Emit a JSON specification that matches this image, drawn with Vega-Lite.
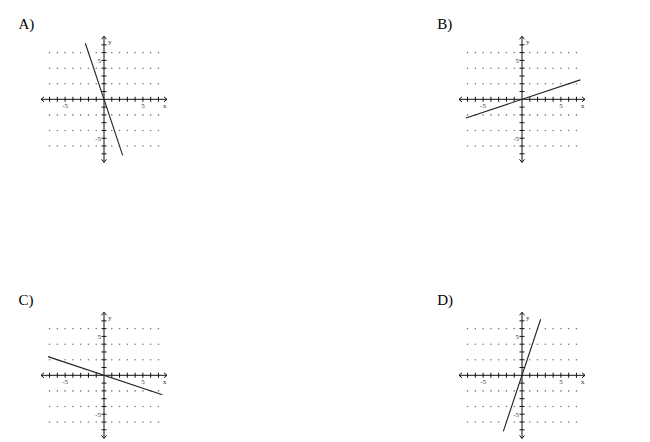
{
  "$schema": "https://vega.github.io/schema/vega-lite/v6.json",
  "description": "Four candidate graphs of a line through the origin (A-D) on a dotted grid.",
  "padding": 0,
  "background": "white",
  "config": {"view": {"stroke": null}},
  "datasets": {
    "grid": [
      {"x": -7, "y": 6}, {"x": -6, "y": 6}, {"x": -5, "y": 6}, {"x": -4, "y": 6}, {"x": -3, "y": 6}, {"x": -2, "y": 6}, {"x": -1, "y": 6},
      {"x": 1, "y": 6}, {"x": 2, "y": 6}, {"x": 3, "y": 6}, {"x": 4, "y": 6}, {"x": 5, "y": 6}, {"x": 6, "y": 6}, {"x": 7, "y": 6},
      {"x": -7, "y": 4}, {"x": -6, "y": 4}, {"x": -5, "y": 4}, {"x": -4, "y": 4}, {"x": -3, "y": 4}, {"x": -2, "y": 4}, {"x": -1, "y": 4},
      {"x": 1, "y": 4}, {"x": 2, "y": 4}, {"x": 3, "y": 4}, {"x": 4, "y": 4}, {"x": 5, "y": 4}, {"x": 6, "y": 4}, {"x": 7, "y": 4},
      {"x": -7, "y": 2}, {"x": -6, "y": 2}, {"x": -5, "y": 2}, {"x": -4, "y": 2}, {"x": -3, "y": 2}, {"x": -2, "y": 2}, {"x": -1, "y": 2},
      {"x": 1, "y": 2}, {"x": 2, "y": 2}, {"x": 3, "y": 2}, {"x": 4, "y": 2}, {"x": 5, "y": 2}, {"x": 6, "y": 2}, {"x": 7, "y": 2},
      {"x": -7, "y": -2}, {"x": -6, "y": -2}, {"x": -5, "y": -2}, {"x": -4, "y": -2}, {"x": -3, "y": -2}, {"x": -2, "y": -2}, {"x": -1, "y": -2},
      {"x": 1, "y": -2}, {"x": 2, "y": -2}, {"x": 3, "y": -2}, {"x": 4, "y": -2}, {"x": 5, "y": -2}, {"x": 6, "y": -2}, {"x": 7, "y": -2},
      {"x": -7, "y": -4}, {"x": -6, "y": -4}, {"x": -5, "y": -4}, {"x": -4, "y": -4}, {"x": -3, "y": -4}, {"x": -2, "y": -4}, {"x": -1, "y": -4},
      {"x": 1, "y": -4}, {"x": 2, "y": -4}, {"x": 3, "y": -4}, {"x": 4, "y": -4}, {"x": 5, "y": -4}, {"x": 6, "y": -4}, {"x": 7, "y": -4},
      {"x": -7, "y": -6}, {"x": -6, "y": -6}, {"x": -5, "y": -6}, {"x": -4, "y": -6}, {"x": -3, "y": -6}, {"x": -2, "y": -6}, {"x": -1, "y": -6},
      {"x": 1, "y": -6}, {"x": 2, "y": -6}, {"x": 3, "y": -6}, {"x": 4, "y": -6}, {"x": 5, "y": -6}, {"x": 6, "y": -6}, {"x": 7, "y": -6}
    ],
    "axes": [
      {"x": -8.1, "y": 0, "x2": 8.1, "y2": 0},
      {"x": 0, "y": -8.1, "x2": 0, "y2": 8.1}
    ],
    "xticks": [
      {"x": -7, "y": 0}, {"x": -6, "y": 0}, {"x": -5, "y": 0}, {"x": -4, "y": 0}, {"x": -3, "y": 0}, {"x": -2, "y": 0}, {"x": -1, "y": 0},
      {"x": 1, "y": 0}, {"x": 2, "y": 0}, {"x": 3, "y": 0}, {"x": 4, "y": 0}, {"x": 5, "y": 0}, {"x": 6, "y": 0}, {"x": 7, "y": 0}
    ],
    "yticks": [
      {"x": 0, "y": -7}, {"x": 0, "y": -6}, {"x": 0, "y": -5}, {"x": 0, "y": -4}, {"x": 0, "y": -3}, {"x": 0, "y": -2}, {"x": 0, "y": -1},
      {"x": 0, "y": 1}, {"x": 0, "y": 2}, {"x": 0, "y": 3}, {"x": 0, "y": 4}, {"x": 0, "y": 5}, {"x": 0, "y": 6}, {"x": 0, "y": 7}
    ],
    "arrows": [
      {"x": -8.1, "y": 0, "dir": "left"},
      {"x": 8.1, "y": 0, "dir": "right"},
      {"x": 0, "y": 8.1, "dir": "up"},
      {"x": 0, "y": -8.1, "dir": "down"}
    ],
    "xlabels": [
      {"x": -5, "y": 0, "t": "-5"},
      {"x": 5, "y": 0, "t": "5"},
      {"x": 7.8, "y": 0, "t": "x"}
    ],
    "ylabels": [
      {"x": 0, "y": 5, "t": "5"},
      {"x": 0, "y": -5, "t": "-5"}
    ],
    "yname": [
      {"x": 0, "y": 7.3, "t": "y"}
    ]
  },
  "columns": 2,
  "spacing": {"row": 111, "column": 210},
  "concat": [
    {
      "width": 208,
      "height": 165,
      "encoding": {
        "x": {"field": "x", "type": "quantitative", "scale": {"domain": [-13.37, 13.37], "nice": false, "zero": false}, "axis": null},
        "y": {"field": "y", "type": "quantitative", "scale": {"domain": [-8.44, 12.76], "nice": false, "zero": false}, "axis": null}
      },
      "layer": [
        {"data": {"name": "grid"}, "mark": {"type": "circle", "size": 2.5, "color": "#7a7a7a", "opacity": 1}},
        {"data": {"name": "axes"}, "mark": {"type": "rule", "color": "#111", "strokeWidth": 1}, "encoding": {"x2": {"field": "x2"}, "y2": {"field": "y2"}}},
        {"data": {"name": "xticks"}, "mark": {"type": "tick", "orient": "vertical", "size": 5, "thickness": 1, "color": "#111", "opacity": 1}},
        {"data": {"name": "yticks"}, "mark": {"type": "tick", "orient": "horizontal", "size": 5, "thickness": 1, "color": "#111", "opacity": 1}},
        {"data": {"name": "arrows"}, "mark": {"type": "point", "filled": false, "size": 25, "strokeWidth": 1, "color": "#111", "opacity": 1},
         "encoding": {"shape": {"field": "dir", "type": "nominal", "legend": null,
           "scale": {"domain": ["left", "right", "up", "down"], "range": ["M 1.2 -1 L 0 0 L 1.2 1", "M -1.2 -1 L 0 0 L -1.2 1", "M -1 1.2 L 0 0 L 1 1.2", "M -1 -1.2 L 0 0 L 1 -1.2"]}}}},
        {"data": {"name": "xlabels"}, "mark": {"type": "text", "font": "Liberation Serif", "fontSize": 7, "fill": "#333", "baseline": "middle", "dy": 7}, "encoding": {"text": {"field": "t"}}},
        {"data": {"name": "ylabels"}, "mark": {"type": "text", "font": "Liberation Serif", "fontSize": 7, "fill": "#333", "baseline": "middle", "align": "right", "dx": -3, "dy": 1}, "encoding": {"text": {"field": "t"}}},
        {"data": {"name": "yname"}, "mark": {"type": "text", "font": "Liberation Serif", "fontSize": 7, "fill": "#333", "baseline": "middle", "align": "left", "dx": 4}, "encoding": {"text": {"field": "t"}}},
        {"data": {"values": [{"x": -2.4, "y": 7.2}, {"x": 2.4, "y": -7.2}]}, "mark": {"type": "line", "color": "#222", "strokeWidth": 1.1}},
        {"data": {"values": [{"x": -11, "y": 9, "t": "A)"}]}, "mark": {"type": "text", "font": "Liberation Serif", "fontSize": 15, "fill": "#000", "align": "left", "baseline": "alphabetic"}, "encoding": {"text": {"field": "t"}}}
      ]
    },
    {
      "width": 208,
      "height": 165,
      "encoding": {
        "x": {"field": "x", "type": "quantitative", "scale": {"domain": [-13.37, 13.37], "nice": false, "zero": false}, "axis": null},
        "y": {"field": "y", "type": "quantitative", "scale": {"domain": [-8.44, 12.76], "nice": false, "zero": false}, "axis": null}
      },
      "layer": [
        {"data": {"name": "grid"}, "mark": {"type": "circle", "size": 2.5, "color": "#7a7a7a", "opacity": 1}},
        {"data": {"name": "axes"}, "mark": {"type": "rule", "color": "#111", "strokeWidth": 1}, "encoding": {"x2": {"field": "x2"}, "y2": {"field": "y2"}}},
        {"data": {"name": "xticks"}, "mark": {"type": "tick", "orient": "vertical", "size": 5, "thickness": 1, "color": "#111", "opacity": 1}},
        {"data": {"name": "yticks"}, "mark": {"type": "tick", "orient": "horizontal", "size": 5, "thickness": 1, "color": "#111", "opacity": 1}},
        {"data": {"name": "arrows"}, "mark": {"type": "point", "filled": false, "size": 25, "strokeWidth": 1, "color": "#111", "opacity": 1},
         "encoding": {"shape": {"field": "dir", "type": "nominal", "legend": null,
           "scale": {"domain": ["left", "right", "up", "down"], "range": ["M 1.2 -1 L 0 0 L 1.2 1", "M -1.2 -1 L 0 0 L -1.2 1", "M -1 1.2 L 0 0 L 1 1.2", "M -1 -1.2 L 0 0 L 1 -1.2"]}}}},
        {"data": {"name": "xlabels"}, "mark": {"type": "text", "font": "Liberation Serif", "fontSize": 7, "fill": "#333", "baseline": "middle", "dy": 7}, "encoding": {"text": {"field": "t"}}},
        {"data": {"name": "ylabels"}, "mark": {"type": "text", "font": "Liberation Serif", "fontSize": 7, "fill": "#333", "baseline": "middle", "align": "right", "dx": -3, "dy": 1}, "encoding": {"text": {"field": "t"}}},
        {"data": {"name": "yname"}, "mark": {"type": "text", "font": "Liberation Serif", "fontSize": 7, "fill": "#333", "baseline": "middle", "align": "left", "dx": 4}, "encoding": {"text": {"field": "t"}}},
        {"data": {"values": [{"x": -7.2, "y": -2.4}, {"x": 7.5, "y": 2.5}]}, "mark": {"type": "line", "color": "#222", "strokeWidth": 1.1}},
        {"data": {"values": [{"x": -10.9, "y": 9, "t": "B)"}]}, "mark": {"type": "text", "font": "Liberation Serif", "fontSize": 15, "fill": "#000", "align": "left", "baseline": "alphabetic"}, "encoding": {"text": {"field": "t"}}}
      ]
    },
    {
      "width": 208,
      "height": 165,
      "encoding": {
        "x": {"field": "x", "type": "quantitative", "scale": {"domain": [-13.37, 13.37], "nice": false, "zero": false}, "axis": null},
        "y": {"field": "y", "type": "quantitative", "scale": {"domain": [-8.44, 12.76], "nice": false, "zero": false}, "axis": null}
      },
      "layer": [
        {"data": {"name": "grid"}, "mark": {"type": "circle", "size": 2.5, "color": "#7a7a7a", "opacity": 1}},
        {"data": {"name": "axes"}, "mark": {"type": "rule", "color": "#111", "strokeWidth": 1}, "encoding": {"x2": {"field": "x2"}, "y2": {"field": "y2"}}},
        {"data": {"name": "xticks"}, "mark": {"type": "tick", "orient": "vertical", "size": 5, "thickness": 1, "color": "#111", "opacity": 1}},
        {"data": {"name": "yticks"}, "mark": {"type": "tick", "orient": "horizontal", "size": 5, "thickness": 1, "color": "#111", "opacity": 1}},
        {"data": {"name": "arrows"}, "mark": {"type": "point", "filled": false, "size": 25, "strokeWidth": 1, "color": "#111", "opacity": 1},
         "encoding": {"shape": {"field": "dir", "type": "nominal", "legend": null,
           "scale": {"domain": ["left", "right", "up", "down"], "range": ["M 1.2 -1 L 0 0 L 1.2 1", "M -1.2 -1 L 0 0 L -1.2 1", "M -1 1.2 L 0 0 L 1 1.2", "M -1 -1.2 L 0 0 L 1 -1.2"]}}}},
        {"data": {"name": "xlabels"}, "mark": {"type": "text", "font": "Liberation Serif", "fontSize": 7, "fill": "#333", "baseline": "middle", "dy": 7}, "encoding": {"text": {"field": "t"}}},
        {"data": {"name": "ylabels"}, "mark": {"type": "text", "font": "Liberation Serif", "fontSize": 7, "fill": "#333", "baseline": "middle", "align": "right", "dx": -3, "dy": 1}, "encoding": {"text": {"field": "t"}}},
        {"data": {"name": "yname"}, "mark": {"type": "text", "font": "Liberation Serif", "fontSize": 7, "fill": "#333", "baseline": "middle", "align": "left", "dx": 4}, "encoding": {"text": {"field": "t"}}},
        {"data": {"values": [{"x": -7.2, "y": 2.4}, {"x": 7.5, "y": -2.5}]}, "mark": {"type": "line", "color": "#222", "strokeWidth": 1.1}},
        {"data": {"values": [{"x": -11, "y": 9, "t": "C)"}]}, "mark": {"type": "text", "font": "Liberation Serif", "fontSize": 15, "fill": "#000", "align": "left", "baseline": "alphabetic"}, "encoding": {"text": {"field": "t"}}}
      ]
    },
    {
      "width": 208,
      "height": 165,
      "encoding": {
        "x": {"field": "x", "type": "quantitative", "scale": {"domain": [-13.37, 13.37], "nice": false, "zero": false}, "axis": null},
        "y": {"field": "y", "type": "quantitative", "scale": {"domain": [-8.44, 12.76], "nice": false, "zero": false}, "axis": null}
      },
      "layer": [
        {"data": {"name": "grid"}, "mark": {"type": "circle", "size": 2.5, "color": "#7a7a7a", "opacity": 1}},
        {"data": {"name": "axes"}, "mark": {"type": "rule", "color": "#111", "strokeWidth": 1}, "encoding": {"x2": {"field": "x2"}, "y2": {"field": "y2"}}},
        {"data": {"name": "xticks"}, "mark": {"type": "tick", "orient": "vertical", "size": 5, "thickness": 1, "color": "#111", "opacity": 1}},
        {"data": {"name": "yticks"}, "mark": {"type": "tick", "orient": "horizontal", "size": 5, "thickness": 1, "color": "#111", "opacity": 1}},
        {"data": {"name": "arrows"}, "mark": {"type": "point", "filled": false, "size": 25, "strokeWidth": 1, "color": "#111", "opacity": 1},
         "encoding": {"shape": {"field": "dir", "type": "nominal", "legend": null,
           "scale": {"domain": ["left", "right", "up", "down"], "range": ["M 1.2 -1 L 0 0 L 1.2 1", "M -1.2 -1 L 0 0 L -1.2 1", "M -1 1.2 L 0 0 L 1 1.2", "M -1 -1.2 L 0 0 L 1 -1.2"]}}}},
        {"data": {"name": "xlabels"}, "mark": {"type": "text", "font": "Liberation Serif", "fontSize": 7, "fill": "#333", "baseline": "middle", "dy": 7}, "encoding": {"text": {"field": "t"}}},
        {"data": {"name": "ylabels"}, "mark": {"type": "text", "font": "Liberation Serif", "fontSize": 7, "fill": "#333", "baseline": "middle", "align": "right", "dx": -3, "dy": 1}, "encoding": {"text": {"field": "t"}}},
        {"data": {"name": "yname"}, "mark": {"type": "text", "font": "Liberation Serif", "fontSize": 7, "fill": "#333", "baseline": "middle", "align": "left", "dx": 4}, "encoding": {"text": {"field": "t"}}},
        {"data": {"values": [{"x": -2.4, "y": -7.2}, {"x": 2.4, "y": 7.2}]}, "mark": {"type": "line", "color": "#222", "strokeWidth": 1.1}},
        {"data": {"values": [{"x": -10.9, "y": 9, "t": "D)"}]}, "mark": {"type": "text", "font": "Liberation Serif", "fontSize": 15, "fill": "#000", "align": "left", "baseline": "alphabetic"}, "encoding": {"text": {"field": "t"}}}
      ]
    }
  ]
}
